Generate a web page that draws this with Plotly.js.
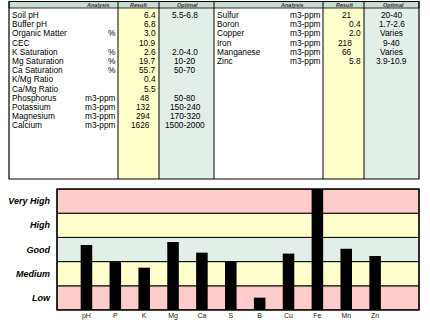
<!DOCTYPE html>
<html>
<head>
<meta charset="utf-8">
<script src="https://cdn.plot.ly/plotly-3.0.1.min.js"></script>
<style>html,body{margin:0;padding:0;background:#fff;}#chart{width:430px;height:323px;}</style>
</head>
<body>
<div id="chart"></div>
<script>
// ---- Table data ----
const leftAnalysis = ["Soil pH","Buffer pH","Organic Matter","CEC","K Saturation","Mg Saturation","Ca Saturation","K/Mg Ratio","Ca/Mg Ratio","Phosphorus","Potassium","Magnesium","Calcium"];
const leftUnits = ["","","%","","%","%","%","","","m3-ppm","m3-ppm","m3-ppm","m3-ppm"];
const leftResult = ["6.4","6.8","3.0","10.9","2.6","19.7","55.7","0.4","5.5","48","132","294","1626"];
const leftOptimal = ["5.5-6.8","","","","2.0-4.0","10-20","50-70","","","50-80","150-240","170-320","1500-2000"];
const rightAnalysis = ["Sulfur","Boron","Copper","Iron","Manganese","Zinc"];
const rightUnits = ["m3-ppm","m3-ppm","m3-ppm","m3-ppm","m3-ppm","m3-ppm"];
const rightResult = ["21","0.4","2.0","218","66","5.8"];
const rightOptimal = ["20-40","1.7-2.6","Varies","9-40","Varies","3.9-10.9"];
const headers = ["Analysis","Result","Optimal"];

// ---- Chart data ----
const nutrients = ["pH","P","K","Mg","Ca","S","B","Cu","Fe","Mn","Zn"];
const levels = [2.69,1.98,1.75,2.81,2.37,2.02,0.51,2.33,5.0,2.53,2.23];
const levelLabels = ["Low","Medium","Good","High","Very High"];

// ---- Layout helpers ----
const L=57, T=189, W=362, H=121;
const xp = x => (x-L)/W;
const yp = y => (T+H-y)/H;
const PINK='#FFCCCC', YEL='#FFFFCC', GRN='#E3EEE8', HDR='#C8DCD2';
const shapes=[], annotations=[];
function rect(x0,y0,x1,y1,fill,lw){
  shapes.push({type:'rect',xref:'paper',yref:'paper',x0:xp(x0),x1:xp(x1),y0:yp(y1),y1:yp(y0),
    fillcolor:fill||'rgba(0,0,0,0)',line:{color:'black',width:lw===undefined?1:lw},layer:'above'});
}
function vline(x,y0,y1,lw){
  shapes.push({type:'line',xref:'paper',yref:'paper',x0:xp(x),x1:xp(x),y0:yp(y0),y1:yp(y1),line:{color:'black',width:lw||1}});
}
function txt(s,x,y,anchor,font){
  if(!s) return;
  annotations.push({text:s,xref:'paper',yref:'paper',x:xp(x),y:yp(y),xanchor:anchor,yanchor:'middle',
    showarrow:false,borderpad:0,font:Object.assign({family:'Liberation Sans, Arial, sans-serif',size:8.3,color:'#000'},font||{})});
}

// table geometry
const tTop=1.5, hBot=8, tBot=179;
rect(9,hBot,118,tBot,'#FFFFFF',0);
rect(118,hBot,159,tBot,YEL,0);
rect(159,hBot,214,tBot,GRN,0);
rect(214,hBot,323,tBot,'#FFFFFF',0);
rect(323,hBot,364,tBot,YEL,0);
rect(364,hBot,419,tBot,GRN,0);
rect(9,tTop,419,hBot,HDR,0.8);
[118,159,214,323,364].forEach(x=>vline(x,tTop,tBot,1));
rect(9,tTop,419,tBot,null,1.2);

const hfont={size:5.5,color:'#333',weight:'bold',style:'italic'};
txt(headers[0],98,5,'center',hfont);
txt(headers[1],138.5,5,'center',hfont);
txt(headers[2],187,5,'center',hfont);
txt(headers[0],292,5,'center',hfont);
txt(headers[1],345,5,'center',hfont);
txt(headers[2],393,5,'center',hfont);

const rowY = i => 15 + 9.2*i;
leftAnalysis.forEach((s,i)=>{
  txt(s,11,rowY(i),'left');
  txt(leftUnits[i],117,rowY(i),'right');
  txt(leftResult[i], leftResult[i].indexOf('.')>=0?157:151, rowY(i),'right');
  txt(leftOptimal[i],185,rowY(i),'center');
});
rightAnalysis.forEach((s,i)=>{
  txt(s,216,rowY(i),'left');
  txt(rightUnits[i],322,rowY(i),'right');
  txt(rightResult[i], rightResult[i].indexOf('.')>=0?362:353, rowY(i),'right');
  txt(rightOptimal[i],391.5,rowY(i),'center');
});

// chart bands
const bandColors=[PINK,YEL,GRN,YEL,PINK];
levelLabels.forEach((lab,i)=>{
  shapes.push({type:'rect',xref:'paper',yref:'y',x0:0,x1:1,y0:i,y1:i+1,fillcolor:bandColors[i],
    line:{color:'black',width:1},layer:'below'});
});
shapes.push({type:'rect',xref:'paper',yref:'paper',x0:0,x1:1,y0:0,y1:1,line:{color:'black',width:1.3},layer:'below'});

const trace={type:'bar',x:nutrients,y:levels,width:0.4,marker:{color:'#000',line:{width:0}},hoverinfo:'skip'};

const layout={
  width:430,height:323,
  margin:{l:L,r:430-L-W,t:T,b:323-T-H,pad:0},
  paper_bgcolor:'#fff',plot_bgcolor:'rgba(0,0,0,0)',
  showlegend:false,
  xaxis:{type:'category',range:[-1.02,11.52],showgrid:false,zeroline:false,showline:false,ticks:'',
    tickfont:{family:'Liberation Sans, Arial, sans-serif',size:7,color:'#222'},ticklabelstandoff:0,fixedrange:true},
  yaxis:{range:[0,5],showgrid:false,zeroline:false,showline:false,ticks:'',
    tickvals:[0.5,1.5,2.5,3.5,4.5],ticktext:levelLabels,
    tickfont:{family:'Liberation Sans, Arial, sans-serif',size:9,color:'#000',weight:'bold',style:'italic'},
    ticklabelstandoff:6,fixedrange:true},
  shapes:shapes,annotations:annotations
};
Plotly.newPlot('chart',[trace],layout,{displayModeBar:false,staticPlot:true});
</script>
</body>
</html>
